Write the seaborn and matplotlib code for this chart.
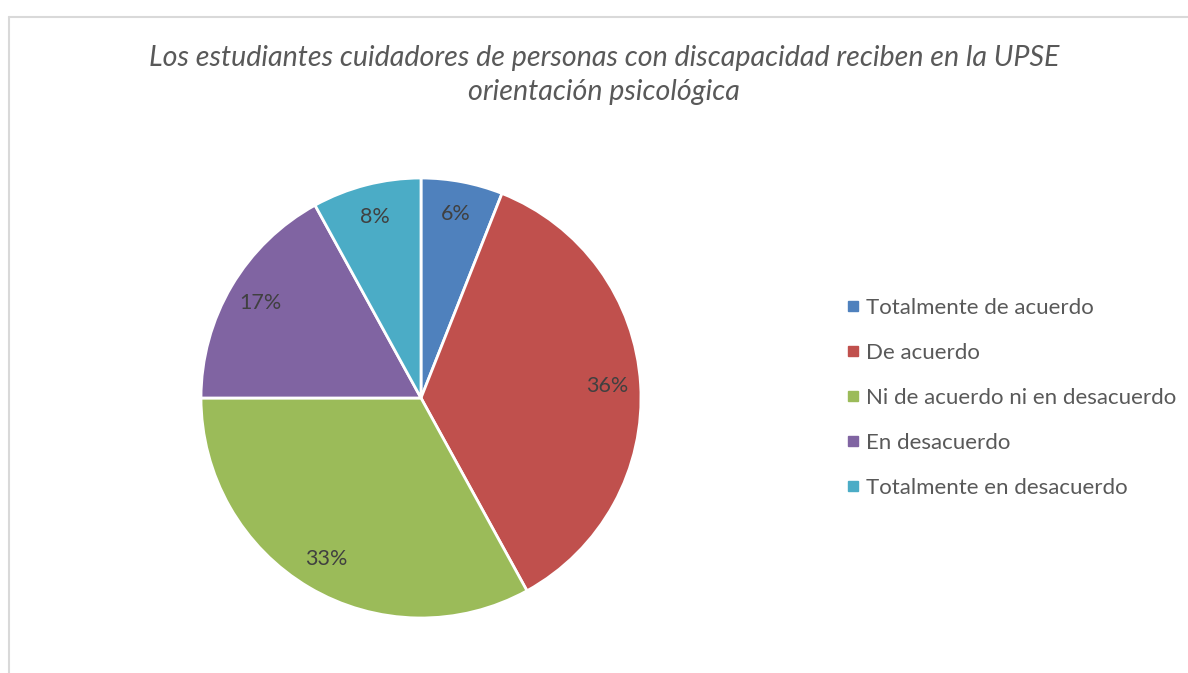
import matplotlib.pyplot as plt
import seaborn as sns
from matplotlib.lines import Line2D

# Survey answers and their shares (%)
categories = ['Totalmente de acuerdo', 'De acuerdo', 'Ni de acuerdo ni en desacuerdo',
              'En desacuerdo', 'Totalmente en desacuerdo']
shares = [6, 36, 33, 17, 8]
slice_colors = ['#4F81BD', '#C0504D', '#9BBB59', '#8064A2', '#4BACC6']
title = ('Los estudiantes cuidadores de personas con discapacidad reciben en la UPSE\n'
         'orientación psicológica')

sns.set_theme(style='white')
plt.rcParams['font.family'] = ['Lato', 'DejaVu Sans']
palette = sns.color_palette(slice_colors)

W, H, DPI = 1188, 673, 100
fig = plt.figure(figsize=(W / DPI, H / DPI), dpi=DPI)

# Pie axes: centre ~(421, 398) px, radius ~220 px
cx, cy, r = 421, 398, 220
ax = fig.add_axes([(cx - r) / W, (H - cy - r) / H, 2 * r / W, 2 * r / H])
wedges, _, autotexts = ax.pie(
    shares, colors=palette, startangle=90, counterclock=False,
    autopct='%1.0f%%', pctdistance=0.85,
    wedgeprops={'edgecolor': 'white', 'linewidth': 2},
    textprops={'fontsize': 15.5, 'color': '#404040'})
ax.set_xlim(-1, 1)
ax.set_ylim(-1, 1)
ax.set_aspect('equal')
ax.axis('off')

# Title
fig.text(604 / W, 1 - 75 / H, title, ha='center', va='center', fontsize=20.6,
         style='italic', color='#595959', linespacing=1.42)

# Legend with small square markers
handles = [Line2D([], [], marker='s', linestyle='', markersize=7,
                  markerfacecolor=c, markeredgecolor=c) for c in palette]
fig.legend(handles, categories, loc='center left',
           bbox_to_anchor=(822 / W, 1 - 398 / H), frameon=False,
           fontsize=16, labelcolor='#595959', labelspacing=1.13,
           handletextpad=0.1, handlelength=1.0)

# Light grey chart frame (left and top edges visible)
frame_kw = dict(color='#d9d9d9', linewidth=1.5, transform=fig.transFigure)
fig.add_artist(Line2D([8.5 / W, 8.5 / W], [0, 1 - 17 / H], **frame_kw))
fig.add_artist(Line2D([8.5 / W, 1], [1 - 17 / H, 1 - 17 / H], **frame_kw))

fig.savefig('out.png', dpi=DPI, facecolor='white')
plt.close(fig)
